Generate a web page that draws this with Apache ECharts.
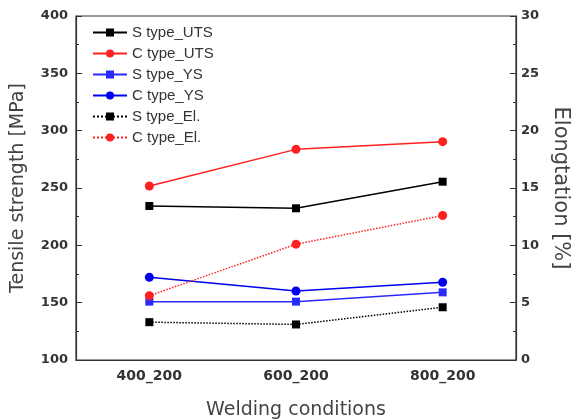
<!DOCTYPE html>
<html><head><meta charset="utf-8">
<script src="https://cdn.jsdelivr.net/npm/echarts@6/dist/echarts.min.js"></script>
<style>html,body{margin:0;padding:0;background:#fff}#c{width:581px;height:420px}</style>
</head><body><div id="c"></div>
<script>
const categories = ['400_200', '600_200', '800_200'];
const sUTS = [234.3, 232.3, 255.5];
const cUTS = [251.7, 283.7, 290.4];
const sYS = [150.9, 150.9, 159.0];
const cYS = [172.1, 160.2, 167.8];
const sEl = [3.3, 3.1, 4.6];
const cEl = [5.6, 10.1, 12.6];

const FONT = 'Liberation Sans, Arial, sans-serif';
const DV = 'DejaVu Sans, sans-serif';
const chart = echarts.init(document.getElementById('c'));
function mk(name, data, color, symbol, yIdx, dotted) {
  return {
    name, type: 'line', data, yAxisIndex: yIdx, xAxisIndex: 0,
    symbol, symbolSize: symbol === 'rect' ? 8 : 9,
    itemStyle: { color },
    lineStyle: { color, width: 1.5, type: dotted ? 'dotted' : 'solid' },
    animation: false
  };
}
chart.setOption({
  animation: false,
  grid: { left: 76, right: 65, top: 16, bottom: 60, show: true, borderColor: '#333', borderWidth: 1.2,
          containLabel: false, outerBoundsMode: 'none' },
  legend: {
    orient: 'vertical', left: 87, top: 20, itemWidth: 34, itemHeight: 10, itemGap: 6,
    textStyle: { fontFamily: FONT, fontSize: 15, color: '#333' },
    data: ['S type_UTS', 'C type_UTS', 'S type_YS', 'C type_YS', 'S type_El.', 'C type_El.']
  },
  xAxis: [{
    type: 'category', data: categories, position: 'bottom',
    name: 'Welding conditions', nameLocation: 'middle', nameGap: 41,
    nameTextStyle: { fontFamily: DV, fontSize: 19, color: '#444', verticalAlign: 'top' },
    axisLine: { lineStyle: { color: '#333', width: 1.2 } },
    axisTick: { alignWithLabel: true, inside: true, length: 6, lineStyle: { color: '#333' } },
    axisLabel: { fontFamily: DV, fontSize: 14, fontWeight: 'bold', color: '#333', margin: 9 },
    splitLine: { show: false }
  }, {
    type: 'category', data: categories, position: 'bottom',
    axisLine: { show: false },
    axisTick: { inside: true, length: 3, lineStyle: { color: '#333' } },
    axisLabel: { show: false }, splitLine: { show: false }
  }],
  yAxis: [{
    type: 'value', min: 100, max: 400, interval: 50, position: 'left',
    name: 'Tensile strength [MPa]', nameLocation: 'middle', nameGap: 48, nameRotate: 90,
    nameTextStyle: { fontFamily: DV, fontSize: 19, color: '#444' },
    axisLine: { show: true, lineStyle: { color: '#333', width: 1.2 } },
    axisTick: { show: true, inside: true, length: 6, lineStyle: { color: '#333' } },
    minorTick: { show: true, splitNumber: 2, length: 3, lineStyle: { color: '#333' } },
    axisLabel: { fontFamily: DV, fontSize: 13, fontWeight: 'bold', color: '#333', margin: 8 },
    splitLine: { show: false }
  }, {
    type: 'value', min: 0, max: 30, interval: 5, position: 'right',
    name: 'Elongtation [%]', nameLocation: 'middle', nameGap: 34, nameRotate: -90,
    nameTextStyle: { fontFamily: DV, fontSize: 21, color: '#444' },
    axisLine: { show: true, lineStyle: { color: '#333', width: 1.2 } },
    axisTick: { show: true, inside: true, length: 6, lineStyle: { color: '#333' } },
    minorTick: { show: true, splitNumber: 2, length: 3, lineStyle: { color: '#333' } },
    axisLabel: { fontFamily: DV, fontSize: 13, fontWeight: 'bold', color: '#333', margin: 5 },
    splitLine: { show: false }
  }],
  series: [
    mk('S type_UTS', sUTS, '#000000', 'rect', 0, false),
    mk('C type_UTS', cUTS, '#ff2020', 'circle', 0, false),
    mk('S type_YS', sYS, '#2a2aff', 'rect', 0, false),
    mk('C type_YS', cYS, '#0000ee', 'circle', 0, false),
    mk('S type_El.', sEl, '#000000', 'rect', 1, true),
    mk('C type_El.', cEl, '#ff2020', 'circle', 1, true)
  ]
});
</script></body></html>
